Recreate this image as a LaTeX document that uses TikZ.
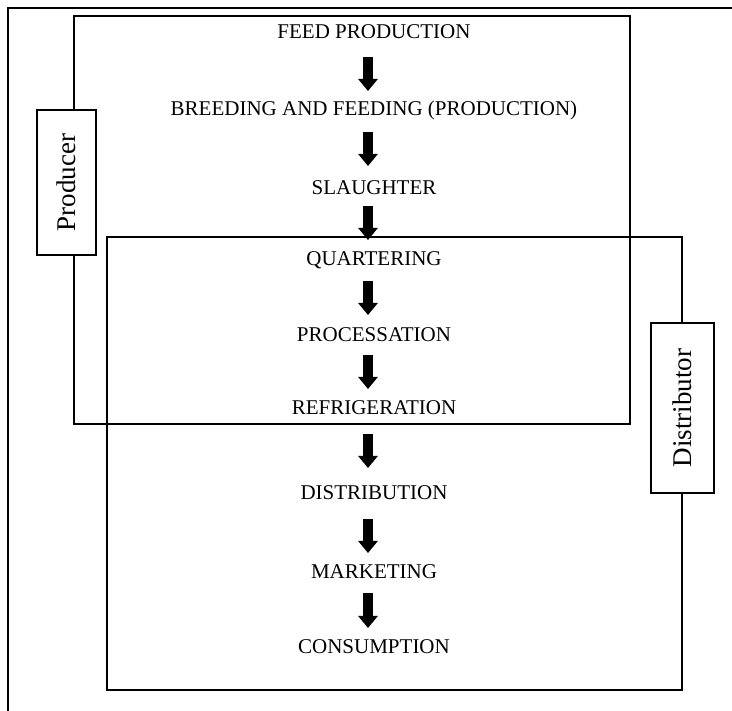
\documentclass[tikz,border=0pt]{standalone}
\usepackage{fontspec}
\setmainfont{Liberation Serif}
\usetikzlibrary{arrows.meta}

\begin{document}
\begin{tikzpicture}[x=1pt,y=-1pt,
  frameline/.style={line width=1.2pt},
  boxline/.style={line width=1.3pt},
  stagetext/.style={anchor=base,inner sep=0pt,font=\fontsize{21}{25}\selectfont},
  rolebox/.style={draw,line width=1.3pt,fill=white,inner sep=0pt,rotate=90,
    font=\fontsize{27}{32}\selectfont},
  blockarrow/.style={line width=10pt,line cap=butt,
    -{Triangle[width=19pt,length=12pt]}}]

\useasboundingbox (0,0) rectangle (732,711);

% outer frame (open at right and bottom)
\draw[frameline] (8,711) -- (8,8) -- (732,8);

% producer and distributor regions
\draw[boxline] (74,16) rectangle (630,424);
\draw[boxline] (107,237) rectangle (682,690);

% stages of the chain
\node[stagetext] (feed)  at (374,39)  {FEED PRODUCTION};
\node[stagetext] (breed) at (374,116) {BREEDING AND FEEDING (PRODUCTION)};
\node[stagetext] (slau)  at (374,195) {SLAUGHTER};
\node[stagetext] (quar)  at (374,266) {QUARTERING};
\node[stagetext] (proc)  at (374,342) {PROCESSATION};
\node[stagetext] (refr)  at (374,415) {REFRIGERATION};
\node[stagetext] (dist)  at (374,500) {DISTRIBUTION};
\node[stagetext] (mark)  at (374,579) {MARKETING};
\node[stagetext] (cons)  at (374,653) {CONSUMPTION};

% block arrows between consecutive stages
\foreach \i/\t/\b in {1/57/91,2/132/166,3/206/240,4/281/315,
                      5/355/389,6/434/468,7/519/553,8/593/628}{
  \coordinate (s\i) at (368,\t);
  \coordinate (e\i) at (368,\b);
  \draw[blockarrow] (s\i) -- (e\i);
}

% role labels
\node[rolebox,minimum width=145pt,minimum height=59pt] (producer)
  at (66.5,182.5) {Producer};
\node[rolebox,minimum width=170pt,minimum height=63pt] (distributor)
  at (682.5,408) {Distributor};

\end{tikzpicture}
\end{document}
